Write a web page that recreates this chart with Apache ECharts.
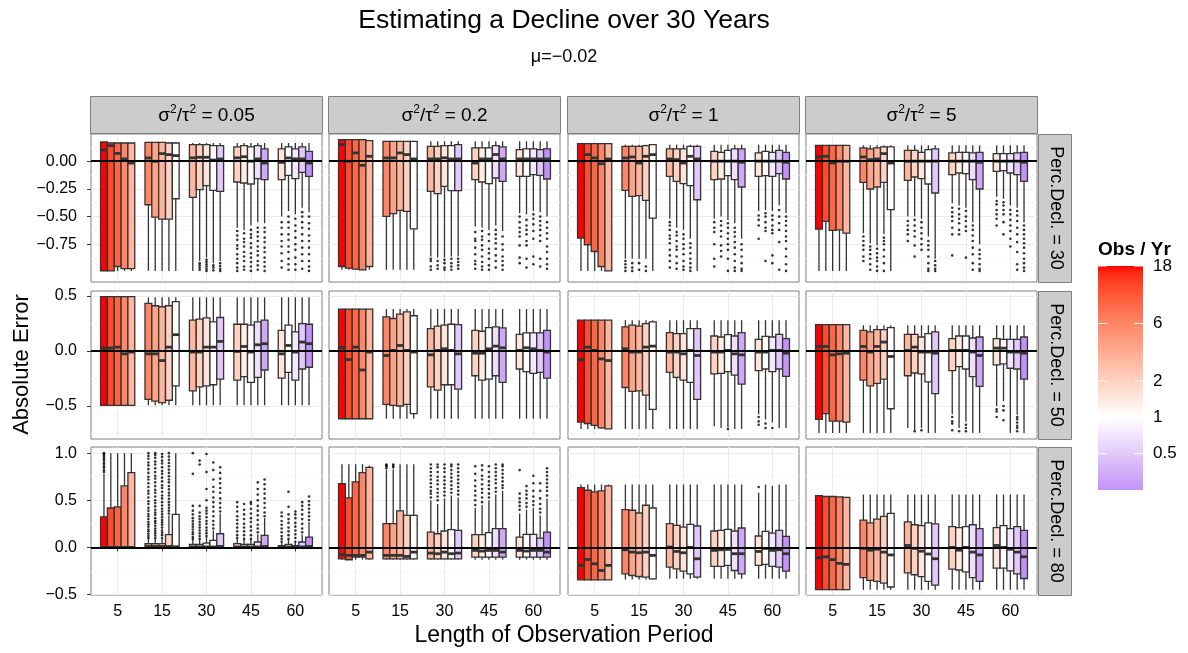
<!DOCTYPE html>
<html>
<head>
<meta charset="utf-8">
<title>Estimating a Decline over 30 Years</title>
<script src="https://cdn.jsdelivr.net/npm/echarts@6/dist/echarts.min.js"></script>
<style>
  html, body { margin: 0; padding: 0; background: #ffffff; }
  #chart { width: 1188px; height: 653px; }
</style>
</head>
<body>
<div id="chart"></div>
<script>
// ---- labels -------------------------------------------------------------
const chartTitle = 'Estimating a Decline over 30 Years';
const chartSubtitle = 'μ=−0.02';
const xTitle = 'Length of Observation Period';
const yTitle = 'Absolute Error';
const legendTitle = 'Obs / Yr';

const periods = [5, 15, 30, 45, 60];          // x categories (years)
const ratios = ['0.05', '0.2', '1', '5'];     // columns: sigma^2 / tau^2
const declines = [30, 50, 80];                // rows: percent decline
// Obs / Yr of the five dodged boxes in each period
const obsPerYear = [
  [18, 12, 9, 6, 3],
  [6, 4, 3, 2, 1],
  [3, 2, 1.5, 1, 0.5],
  [2, 1.33, 1, 0.67, 0.33],
  [1.5, 1, 0.75, 0.5, 0.25]
];
const legendTicks = [18, 6, 2, 1, 0.5];
const yTicks = [[-0.75, -0.5, -0.25, 0], [-0.5, 0, 0.5], [-0.5, 0, 0.5, 1]];
const yMinorTicks = [[-0.875, -0.625, -0.375, -0.125, 0.125], [-0.75, -0.25, 0.25], [-0.25, 0.25, 0.75]];
const yRange = [[-1.09, 0.245], [-0.80, 0.545], [-0.505, 1.065]];

// ---- box statistics: [low whisker, Q1, median, Q3, high whisker] ----------
// one row per period (5, 15, 30, 45, 60), five boxes per row
const stats30_005 = [
  [[-0.99,-0.99,0.10,0.173,0.173],[-0.99,-0.99,0.14,0.164,0.164],[-0.99,-0.95,0.07,0.164,0.164],[-0.99,-0.97,0.02,0.164,0.164],[-0.99,-0.97,-0.017,0.164,0.164]],
  [[-0.99,-0.393,0.029,0.170,0.170],[-0.99,-0.504,-0.001,0.170,0.170],[-0.99,-0.522,0.068,0.170,0.170],[-0.99,-0.522,0.059,0.164,0.170],[-0.99,-0.339,0.05,0.164,0.170]],
  [[-0.99,-0.327,0.03,0.149,0.164],[-0.90,-0.257,0.035,0.149,0.164],[-0.87,-0.221,0.035,0.149,0.164],[-0.92,-0.263,0.01,0.140,0.164],[-0.90,-0.272,0.02,0.140,0.164]],
  [[-0.60,-0.188,0.03,0.128,0.164],[-0.62,-0.197,0.04,0.140,0.164],[-0.58,-0.206,0.0,0.128,0.164],[-0.55,-0.158,0.02,0.140,0.164],[-0.56,-0.167,-0.017,0.110,0.164]],
  [[-0.50,-0.167,-0.011,0.110,0.164],[-0.45,-0.128,0.029,0.128,0.164],[-0.48,-0.158,0.020,0.110,0.164],[-0.42,-0.101,0.020,0.128,0.164],[-0.46,-0.137,-0.017,0.089,0.164]]
];
const stats30_02 = [
  [[-0.98,-0.95,0.15,0.194,0.194],[-0.98,-0.965,-0.001,0.194,0.194],[-0.98,-0.974,0.074,0.194,0.194],[-0.98,-0.98,-0.038,0.194,0.194],[-0.98,-0.95,0.044,0.185,0.185]],
  [[-0.98,-0.498,0.029,0.179,0.179],[-0.98,-0.474,0.029,0.179,0.179],[-0.98,-0.444,0.074,0.179,0.179],[-0.98,-0.453,0.059,0.179,0.179],[-0.98,-0.61,0.02,0.179,0.179]],
  [[-0.86,-0.272,0.02,0.134,0.179],[-0.87,-0.293,0.02,0.134,0.179],[-0.87,-0.227,0.03,0.140,0.179],[-0.86,-0.266,0.02,0.140,0.179],[-0.86,-0.266,0.02,0.149,0.179]],
  [[-0.59,-0.167,-0.017,0.119,0.179],[-0.60,-0.188,0.02,0.119,0.179],[-0.62,-0.203,0.02,0.119,0.179],[-0.58,-0.152,0.06,0.140,0.179],[-0.63,-0.182,0.02,0.128,0.179]],
  [[-0.47,-0.137,0.02,0.104,0.179],[-0.48,-0.137,0.02,0.110,0.179],[-0.45,-0.122,0.02,0.110,0.179],[-0.46,-0.128,0.02,0.104,0.179],[-0.50,-0.161,0.02,0.110,0.179]]
];
const stats30_1 = [
  [[-0.99,-0.694,-0.001,0.158,0.158],[-0.99,-0.754,0.059,0.158,0.158],[-0.99,-0.815,0.029,0.158,0.158],[-0.99,-0.95,-0.023,0.158,0.158],[-0.99,-0.99,0.02,0.158,0.158]],
  [[-0.88,-0.263,0.029,0.134,0.149],[-0.88,-0.317,0.038,0.134,0.149],[-0.88,-0.311,-0.017,0.134,0.149],[-0.88,-0.354,0.044,0.140,0.149],[-0.99,-0.513,0.059,0.149,0.149]],
  [[-0.52,-0.137,0.02,0.110,0.149],[-0.60,-0.182,0.014,0.110,0.149],[-0.62,-0.203,-0.017,0.110,0.149],[-0.70,-0.221,0.044,0.134,0.149],[-0.99,-0.348,0.02,0.134,0.149]],
  [[-0.52,-0.167,0.0,0.089,0.149],[-0.50,-0.161,0.0,0.080,0.149],[-0.53,-0.131,0.0,0.098,0.149],[-0.56,-0.167,0.0,0.110,0.149],[-0.70,-0.233,-0.01,0.110,0.149]],
  [[-0.45,-0.137,0.0,0.074,0.149],[-0.44,-0.131,0.0,0.089,0.149],[-0.45,-0.137,0.0,0.080,0.149],[-0.40,-0.113,0.0,0.098,0.149],[-0.47,-0.161,-0.01,0.080,0.149]]
];
const stats30_5 = [
  [[-0.99,-0.613,0.038,0.143,0.143],[-0.99,-0.543,0.044,0.143,0.143],[-0.99,-0.625,-0.017,0.143,0.143],[-0.99,-0.619,-0.001,0.143,0.143],[-0.99,-0.649,-0.001,0.143,0.143]],
  [[-0.65,-0.191,0.038,0.119,0.143],[-0.74,-0.251,0.014,0.110,0.143],[-0.76,-0.233,0.020,0.119,0.143],[-0.66,-0.191,0.068,0.128,0.143],[-0.99,-0.438,-0.017,0.128,0.143]],
  [[-0.50,-0.173,-0.001,0.098,0.143],[-0.50,-0.143,0.0,0.098,0.143],[-0.52,-0.158,0.0,0.080,0.143],[-0.68,-0.206,0.0,0.104,0.143],[-0.88,-0.287,0.0,0.110,0.143]],
  [[-0.38,-0.122,0.0,0.074,0.143],[-0.40,-0.107,0.0,0.080,0.143],[-0.42,-0.113,0.0,0.080,0.143],[-0.55,-0.167,0.0,0.074,0.143],[-0.75,-0.251,-0.01,0.080,0.143]],
  [[-0.32,-0.092,0.0,0.068,0.143],[-0.34,-0.086,0.0,0.068,0.143],[-0.40,-0.107,0.0,0.068,0.143],[-0.42,-0.122,0.0,0.074,0.143],[-0.55,-0.182,-0.01,0.080,0.143]]
];
const stats50_005 = [
  [[-0.494,-0.494,0.026,0.494,0.494],[-0.494,-0.494,0.026,0.494,0.494],[-0.494,-0.494,0.035,0.494,0.494],[-0.494,-0.494,-0.026,0.494,0.494],[-0.494,-0.494,-0.010,0.494,0.494]],
  [[-0.494,-0.439,-0.026,0.433,0.488],[-0.494,-0.455,-0.026,0.411,0.488],[-0.494,-0.469,-0.087,0.402,0.488],[-0.494,-0.448,0.035,0.411,0.488],[-0.494,-0.317,0.148,0.448,0.488]],
  [[-0.494,-0.362,-0.010,0.280,0.488],[-0.494,-0.326,-0.010,0.289,0.488],[-0.494,-0.317,0.035,0.301,0.488],[-0.494,-0.307,0.035,0.265,0.488],[-0.494,-0.255,0.087,0.304,0.488]],
  [[-0.494,-0.265,-0.004,0.243,0.488],[-0.494,-0.234,0.041,0.243,0.488],[-0.494,-0.286,-0.010,0.234,0.488],[-0.494,-0.240,0.056,0.265,0.488],[-0.494,-0.173,0.066,0.280,0.488]],
  [[-0.494,-0.246,-0.026,0.188,0.488],[-0.494,-0.194,0.050,0.234,0.488],[-0.494,-0.265,-0.010,0.173,0.488],[-0.494,-0.164,0.081,0.249,0.488],[-0.494,-0.148,0.066,0.243,0.488]]
];
const stats50_02 = [
  [[-0.616,-0.616,0.032,0.381,0.381],[-0.616,-0.616,-0.078,0.381,0.381],[-0.616,-0.616,0.035,0.381,0.381],[-0.616,-0.616,-0.173,0.381,0.381],[-0.616,-0.616,-0.010,0.381,0.381]],
  [[-0.616,-0.485,-0.041,0.310,0.381],[-0.616,-0.494,0.005,0.295,0.381],[-0.616,-0.500,0.050,0.335,0.381],[-0.616,-0.485,0.005,0.356,0.381],[-0.616,-0.570,-0.010,0.320,0.381]],
  [[-0.616,-0.326,-0.035,0.203,0.381],[-0.616,-0.356,0.005,0.225,0.381],[-0.616,-0.307,0.020,0.234,0.381],[-0.616,-0.307,0.005,0.243,0.381],[-0.616,-0.347,-0.026,0.240,0.381]],
  [[-0.616,-0.225,-0.020,0.188,0.381],[-0.616,-0.265,-0.020,0.179,0.381],[-0.616,-0.255,0.020,0.213,0.381],[-0.616,-0.225,0.044,0.219,0.381],[-0.616,-0.286,0.029,0.210,0.381]],
  [[-0.616,-0.164,0.005,0.151,0.381],[-0.616,-0.188,0.029,0.164,0.381],[-0.616,-0.203,0.020,0.164,0.381],[-0.616,-0.194,0.005,0.164,0.381],[-0.616,-0.246,-0.010,0.188,0.381]]
];
const stats50_1 = [
  [[-0.708,-0.647,-0.078,0.280,0.280],[-0.708,-0.659,0.035,0.280,0.280],[-0.708,-0.677,0.005,0.280,0.280],[-0.708,-0.699,-0.072,0.280,0.280],[-0.708,-0.708,-0.087,0.280,0.280]],
  [[-0.708,-0.332,0.020,0.219,0.280],[-0.708,-0.368,-0.010,0.234,0.280],[-0.708,-0.362,-0.010,0.225,0.280],[-0.708,-0.402,0.035,0.249,0.280],[-0.708,-0.531,0.044,0.265,0.280]],
  [[-0.708,-0.194,-0.010,0.167,0.280],[-0.708,-0.240,-0.010,0.158,0.280],[-0.708,-0.265,-0.026,0.158,0.280],[-0.708,-0.286,0.005,0.203,0.280],[-0.708,-0.439,-0.041,0.203,0.280]],
  [[-0.685,-0.209,-0.010,0.136,0.280],[-0.700,-0.203,-0.010,0.127,0.280],[-0.690,-0.188,0.005,0.148,0.280],[-0.708,-0.219,-0.026,0.136,0.280],[-0.708,-0.301,-0.035,0.167,0.280]],
  [[-0.576,-0.179,-0.010,0.106,0.280],[-0.622,-0.164,-0.010,0.133,0.280],[-0.650,-0.188,0.005,0.127,0.280],[-0.700,-0.164,0.005,0.151,0.280],[-0.700,-0.231,-0.020,0.112,0.280]]
];
const stats50_5 = [
  [[-0.745,-0.622,0.041,0.240,0.240],[-0.745,-0.570,0.041,0.240,0.240],[-0.745,-0.638,-0.035,0.240,0.240],[-0.745,-0.638,-0.026,0.240,0.240],[-0.745,-0.647,-0.020,0.240,0.240]],
  [[-0.745,-0.265,0.041,0.188,0.234],[-0.745,-0.317,-0.010,0.173,0.234],[-0.745,-0.295,0.041,0.194,0.234],[-0.745,-0.255,0.081,0.194,0.234],[-0.745,-0.525,-0.050,0.213,0.234]],
  [[-0.700,-0.225,0.005,0.151,0.234],[-0.720,-0.200,0.035,0.151,0.234],[-0.700,-0.209,-0.010,0.127,0.234],[-0.745,-0.280,-0.010,0.158,0.234],[-0.745,-0.387,-0.020,0.173,0.234]],
  [[-0.576,-0.179,0.005,0.112,0.234],[-0.700,-0.142,0.005,0.136,0.234],[-0.640,-0.164,0.005,0.136,0.234],[-0.745,-0.234,-0.010,0.118,0.234],[-0.745,-0.322,-0.041,0.127,0.234]],
  [[-0.500,-0.127,0.026,0.112,0.234],[-0.455,-0.118,0.026,0.106,0.234],[-0.745,-0.157,-0.010,0.106,0.234],[-0.580,-0.164,-0.010,0.106,0.234],[-0.745,-0.255,-0.020,0.127,0.234]]
];
const stats80_005 = [
  [[-0.01,-0.005,0.0,0.323,0.78],[-0.01,-0.005,0.0,0.418,1.0],[-0.01,-0.005,0.0,0.429,1.0],[-0.01,-0.005,0.0,0.652,1.0],[-0.01,-0.005,0.0,0.794,1.0]],
  [[-0.01,0.0,0.01,0.039,0.09],[-0.01,0.0,0.01,0.039,0.09],[-0.01,0.0,0.01,0.039,0.09],[-0.01,0.0,0.01,0.135,0.34],[-0.01,0.0,0.007,0.350,1.0]],
  [[-0.01,0.0,0.005,0.032,0.08],[-0.01,0.0,0.005,0.032,0.08],[-0.01,0.0,0.005,0.046,0.11],[-0.01,0.0,0.005,0.074,0.18],[-0.01,0.0,0.01,0.145,0.36]],
  [[-0.01,0.0,0.005,0.039,0.09],[-0.01,0.0,0.005,0.032,0.08],[-0.01,0.0,0.005,0.032,0.08],[-0.01,0.0,0.005,0.057,0.14],[-0.01,0.0,0.01,0.128,0.31]],
  [[-0.01,0.0,0.005,0.018,0.05],[-0.01,0.0,0.005,0.032,0.08],[-0.01,0.0,0.005,0.018,0.05],[-0.01,0.0,0.005,0.057,0.14],[-0.01,0.0,0.01,0.110,0.27]]
];
const stats80_02 = [
  [[-0.13,-0.121,-0.078,0.677,0.883],[-0.13,-0.131,-0.085,0.525,0.883],[-0.13,-0.103,-0.085,0.695,0.883],[-0.13,-0.103,-0.085,0.794,0.883],[-0.13,-0.121,-0.050,0.848,0.870]],
  [[-0.13,-0.121,-0.085,0.252,0.82],[-0.13,-0.121,-0.085,0.252,0.83],[-0.13,-0.121,-0.085,0.387,0.883],[-0.13,-0.121,-0.096,0.340,0.883],[-0.13,-0.121,-0.050,0.340,0.883]],
  [[-0.13,-0.121,-0.060,0.163,0.50],[-0.13,-0.121,-0.067,0.145,0.46],[-0.13,-0.121,-0.050,0.174,0.52],[-0.13,-0.121,-0.067,0.188,0.55],[-0.13,-0.121,-0.060,0.181,0.53]],
  [[-0.13,-0.103,-0.032,0.135,0.42],[-0.13,-0.103,-0.039,0.135,0.45],[-0.13,-0.103,-0.032,0.156,0.50],[-0.13,-0.103,-0.032,0.199,0.56],[-0.13,-0.103,-0.050,0.199,0.60]],
  [[-0.13,-0.103,-0.032,0.110,0.36],[-0.13,-0.103,-0.039,0.138,0.40],[-0.13,-0.103,-0.032,0.138,0.42],[-0.13,-0.103,-0.032,0.099,0.34],[-0.13,-0.103,-0.050,0.163,0.52]]
];
const stats80_1 = [
  [[-0.344,-0.344,-0.191,0.635,0.667],[-0.344,-0.344,-0.128,0.606,0.667],[-0.344,-0.344,-0.174,0.589,0.667],[-0.344,-0.344,-0.245,0.599,0.667],[-0.344,-0.344,-0.191,0.652,0.667]],
  [[-0.34,-0.280,-0.025,0.401,0.667],[-0.34,-0.298,-0.050,0.394,0.667],[-0.34,-0.309,-0.057,0.365,0.667],[-0.34,-0.316,-0.050,0.447,0.667],[-0.344,-0.333,-0.085,0.418,0.667]],
  [[-0.333,-0.209,0.004,0.252,0.667],[-0.333,-0.227,-0.043,0.234,0.667],[-0.333,-0.252,-0.057,0.216,0.667],[-0.333,-0.280,0.0,0.245,0.667],[-0.333,-0.316,-0.121,0.227,0.667]],
  [[-0.333,-0.202,-0.032,0.174,0.667],[-0.333,-0.202,-0.025,0.181,0.667],[-0.333,-0.191,-0.021,0.192,0.667],[-0.333,-0.245,-0.067,0.174,0.667],[-0.333,-0.280,-0.067,0.206,0.667]],
  [[-0.333,-0.191,-0.043,0.121,0.58],[-0.333,-0.181,-0.011,0.170,0.667],[-0.333,-0.202,-0.032,0.152,0.65],[-0.333,-0.209,-0.025,0.181,0.667],[-0.333,-0.252,-0.067,0.117,0.667]]
];
const stats80_5 = [
  [[-0.45,-0.447,-0.11,0.55,0.55],[-0.45,-0.447,-0.10,0.54,0.54],[-0.45,-0.447,-0.13,0.54,0.54],[-0.45,-0.447,-0.17,0.535,0.535],[-0.45,-0.447,-0.18,0.53,0.53]],
  [[-0.45,-0.32,-0.01,0.29,0.56],[-0.45,-0.35,-0.03,0.26,0.56],[-0.45,-0.36,-0.02,0.30,0.56],[-0.45,-0.38,-0.05,0.33,0.56],[-0.45,-0.42,-0.08,0.36,0.56]],
  [[-0.45,-0.27,0.02,0.27,0.56],[-0.45,-0.29,-0.01,0.24,0.56],[-0.45,-0.31,-0.04,0.23,0.56],[-0.45,-0.36,-0.07,0.26,0.56],[-0.45,-0.40,-0.12,0.25,0.56]],
  [[-0.45,-0.23,0.0,0.22,0.56],[-0.45,-0.24,-0.03,0.21,0.56],[-0.45,-0.26,0.0,0.22,0.56],[-0.45,-0.32,-0.05,0.24,0.56],[-0.45,-0.36,-0.08,0.20,0.56]],
  [[-0.45,-0.22,0.02,0.21,0.56],[-0.45,-0.22,0.0,0.23,0.56],[-0.45,-0.25,-0.02,0.20,0.56],[-0.45,-0.28,-0.05,0.22,0.56],[-0.45,-0.33,-0.10,0.18,0.56]]
];

// ---- outliers: [period index, box index, values] -------------------------
const out30_005 = [
  [2,1,[-0.92,-0.94,-0.96,-0.98]],[2,2,[-0.89,-0.91,-0.93,-0.95,-0.97,-0.99]],[2,3,[-0.94,-0.96,-0.985]],[2,4,[-0.92,-0.945,-0.97,-0.99]],
  [3,0,[-0.63,-0.67,-0.71,-0.76,-0.79,-0.84,-0.88,-0.92,-0.96,-0.99]],[3,1,[-0.65,-0.7,-0.73,-0.77,-0.82,-0.86,-0.9,-0.95,-0.98]],
  [3,2,[-0.62,-0.66,-0.69,-0.74,-0.78,-0.83,-0.87,-0.91,-0.95,-0.99]],[3,3,[-0.6,-0.64,-0.68,-0.72,-0.77,-0.81,-0.85,-0.9,-0.94,-0.98]],
  [3,4,[-0.6,-0.64,-0.69,-0.73,-0.78,-0.82,-0.87,-0.91,-0.95,-0.99]],
  [4,0,[-0.55,-0.6,-0.66,-0.72,-0.77,-0.83,-0.9,-0.96]],[4,1,[-0.5,-0.55,-0.6,-0.66,-0.71,-0.77,-0.82,-0.88,-0.93,-0.98]],
  [4,2,[-0.52,-0.58,-0.63,-0.69,-0.75,-0.8,-0.87,-0.93,-0.98]],[4,3,[-0.46,-0.5,-0.55,-0.6,-0.66,-0.72,-0.78,-0.84,-0.9,-0.97]],
  [4,4,[-0.5,-0.56,-0.61,-0.67,-0.72,-0.78,-0.84,-0.9,-0.95,-0.99]]
];
const out30_02 = [
  [2,0,[-0.88,-0.9,-0.95,-0.98]],[2,1,[-0.9,-0.94,-0.97]],[2,2,[-0.89,-0.92,-0.96,-0.98]],[2,3,[-0.88,-0.92,-0.95,-0.98]],[2,4,[-0.88,-0.91,-0.94,-0.97]],
  [3,0,[-0.64,-0.7,-0.72,-0.78,-0.84,-0.9,-0.93,-0.97]],[3,1,[-0.63,-0.68,-0.71,-0.76,-0.8,-0.86,-0.91,-0.95,-0.98]],
  [3,2,[-0.66,-0.72,-0.79,-0.83,-0.88,-0.94,-0.98]],[3,3,[-0.62,-0.66,-0.7,-0.74,-0.79,-0.85,-0.9,-0.96]],[3,4,[-0.68,-0.75,-0.8,-0.86,-0.9,-0.94,-0.98]],
  [4,0,[-0.5,-0.55,-0.6,-0.64,-0.68,-0.76,-0.87,-0.92]],[4,1,[-0.53,-0.58,-0.62,-0.66,-0.72,-0.76,-0.88,-0.96]],
  [4,2,[-0.48,-0.52,-0.57,-0.63,-0.7,-0.86,-0.93]],[4,3,[-0.5,-0.54,-0.58,-0.62,-0.67,-0.72,-0.88,-0.95]],
  [4,4,[-0.55,-0.6,-0.65,-0.7,-0.77,-0.82,-0.88,-0.93,-0.97]]
];
const out30_1 = [
  [1,0,[-0.9,-0.93,-0.96,-0.99]],[1,1,[-0.92,-0.96,-0.99]],[1,2,[-0.92,-0.98]],[1,3,[-0.95,-0.99]],
  [2,0,[-0.55,-0.58,-0.62,-0.67,-0.7,-0.74,-0.8,-0.85,-0.9,-0.96]],[2,1,[-0.64,-0.67,-0.72,-0.77,-0.8,-0.86,-0.92,-0.97]],
  [2,2,[-0.66,-0.7,-0.75,-0.79,-0.84,-0.9,-0.95,-0.98]],[2,3,[-0.74,-0.78,-0.83,-0.88,-0.92,-0.96,-0.99]],
  [3,0,[-0.55,-0.6,-0.64,-0.75,-0.88,-0.95]],[3,1,[-0.54,-0.58,-0.63,-0.68,-0.76,-0.81,-0.86]],
  [3,2,[-0.56,-0.6,-0.65,-0.7,-0.75,-0.8,-0.88,-0.99]],[3,3,[-0.6,-0.64,-0.68,-0.73,-0.78,-0.84,-0.9,-0.96,-0.99]],
  [3,4,[-0.75,-0.8,-0.86,-0.92,-0.97,-0.99]],
  [4,0,[-0.49,-0.53,-0.58,-0.7]],[4,1,[-0.47,-0.5,-0.55,-0.6,-0.63,-0.9]],[4,2,[-0.49,-0.53,-0.58,-0.62,-0.65,-0.85,-0.92]],
  [4,3,[-0.44,-0.5,-0.56,-0.62,-0.73,-0.98]],[4,4,[-0.5,-0.54,-0.58,-0.63,-0.68,-0.72,-0.79,-0.86,-0.93,-0.99]]
];
const out30_5 = [
  [1,0,[-0.68,-0.72,-0.76,-0.8,-0.86,-0.9]],[1,1,[-0.77,-0.8,-0.84,-0.88,-0.93,-0.98]],[1,2,[-0.79,-0.83,-0.87,-0.9,-0.95,-0.99]],
  [1,3,[-0.69,-0.72,-0.75,-0.8,-0.86,-0.92,-0.99]],
  [2,0,[-0.54,-0.58,-0.62,-0.66,-0.72]],[2,1,[-0.53,-0.58,-0.63,-0.68,-0.76,-0.86]],[2,2,[-0.55,-0.6,-0.65,-0.7,-0.75,-0.8]],
  [2,3,[-0.72,-0.76,-0.8,-0.86,-0.92,-0.97,-0.99]],[2,4,[-0.9,-0.94,-0.97,-0.99]],
  [3,0,[-0.42,-0.46,-0.5,-0.54,-0.6,-0.66,-0.85]],[3,1,[-0.43,-0.48,-0.52,-0.56,-0.62,-0.66]],[3,2,[-0.45,-0.5,-0.54,-0.59,-0.63,-0.87]],
  [3,3,[-0.58,-0.62,-0.67,-0.72,-0.78,-0.84,-0.92,-0.98]],[3,4,[-0.8,-0.84,-0.88,-0.93,-0.97,-0.99]],
  [4,0,[-0.36,-0.39,-0.44,-0.48,-0.52,-0.58]],[4,1,[-0.37,-0.4,-0.44,-0.48,-0.55,-0.66]],[4,2,[-0.44,-0.48,-0.53,-0.58,-0.63,-0.7,-0.77]],
  [4,3,[-0.45,-0.49,-0.54,-0.6,-0.66,-0.73,-0.82,-0.93,-0.98]],[4,4,[-0.58,-0.62,-0.66,-0.7,-0.74,-0.78,-0.83,-0.88,-0.92,-0.96,-0.99]]
];
const out50_005 = [];
const out50_02 = [];
const out50_1 = [[3,2,[-0.708]],[4,0,[-0.60,-0.64,-0.67]],[4,1,[-0.66,-0.70]],[4,2,[-0.70]]];
const out50_5 = [
  [2,1,[-0.73]],[2,2,[-0.72]],[3,0,[-0.60,-0.64,-0.66,-0.72]],[3,1,[-0.73]],[3,2,[-0.67,-0.70,-0.73]],
  [4,0,[-0.53,-0.55,-0.60]],[4,1,[-0.50,-0.54,-0.63]],[4,3,[-0.60,-0.62,-0.65,-0.68,-0.70,-0.73]]
];
const out80_005 = [
  [0,0,[0.80,0.82,0.845,0.86,0.885,0.9,0.925,0.94,0.96,0.975,0.99,1.0]],
  [1,0,[0.10,0.12,0.145,0.17,0.19,0.22,0.245,0.27,0.3,0.33,0.355,0.39,0.42,0.46,0.49,0.53,0.57,0.6,0.64,0.68,0.72,0.75,0.79,0.83,0.87,0.9,0.94,0.97,1.0]],
  [1,1,[0.1,0.125,0.15,0.175,0.2,0.23,0.26,0.28,0.31,0.345,0.37,0.4,0.435,0.47,0.5,0.54,0.58,0.61,0.65,0.69,0.73,0.76,0.8,0.84,0.88,0.91,0.95,0.98,1.0]],
  [1,2,[0.1,0.13,0.155,0.18,0.21,0.24,0.265,0.29,0.32,0.35,0.38,0.41,0.445,0.48,0.52,0.55,0.59,0.63,0.66,0.7,0.74,0.78,0.81,0.85,0.89,0.92,0.96,0.99]],
  [1,3,[0.36,0.39,0.42,0.45,0.48,0.515,0.55,0.58,0.615,0.65,0.69,0.72,0.755,0.79,0.825,0.86,0.895,0.93,0.965,1.0]],
  [2,0,[0.09,0.11,0.14,0.16,0.19,0.22,0.25,0.28,0.31,0.35,0.39,0.44,0.78,1.0]],
  [2,1,[0.09,0.12,0.15,0.18,0.21,0.24,0.27,0.3,0.33,0.37,0.44,0.88,0.92]],
  [2,2,[0.12,0.15,0.18,0.21,0.25,0.28,0.32,0.36,0.39,0.42,0.5,0.62,0.8,0.99]],
  [2,3,[0.2,0.24,0.28,0.33,0.38,0.43,0.48,0.53,0.59,0.64,0.72,0.82,0.9]],
  [2,4,[0.38,0.42,0.47,0.52,0.58,0.63,0.68,0.73,0.79,0.85]],
  [3,0,[0.1,0.13,0.17,0.21,0.25,0.29,0.33,0.38,0.43,0.48]],
  [3,1,[0.09,0.13,0.17,0.21,0.25,0.3,0.35,0.4,0.46]],
  [3,2,[0.09,0.13,0.18,0.22,0.27,0.31,0.36,0.41,0.46,0.48]],
  [3,3,[0.16,0.2,0.24,0.29,0.34,0.39,0.44,0.5,0.56,0.62,0.69]],
  [3,4,[0.33,0.37,0.42,0.47,0.52,0.57,0.62,0.67,0.72]],
  [4,0,[0.06,0.09,0.12,0.16,0.2,0.24,0.28,0.33,0.37]],
  [4,1,[0.09,0.13,0.17,0.21,0.26,0.3,0.35,0.43,0.59]],
  [4,2,[0.06,0.1,0.14,0.18,0.22,0.26,0.31,0.35,0.38]],
  [4,3,[0.16,0.2,0.25,0.3,0.35,0.4,0.44,0.48]],
  [4,4,[0.29,0.33,0.37,0.41,0.45,0.49,0.54]]
];
const out80_02 = [
  [1,0,[0.84,0.86,0.87,0.88]],[1,1,[0.85,0.865,0.88]],
  [2,0,[0.53,0.57,0.6,0.64,0.68,0.72,0.76,0.8,0.84,0.88]],[2,1,[0.5,0.54,0.58,0.62,0.67,0.71,0.75,0.8,0.85,0.88]],
  [2,2,[0.55,0.59,0.63,0.67,0.71,0.75,0.8,0.84,0.88]],[2,3,[0.58,0.62,0.66,0.7,0.74,0.78,0.82,0.86,0.88]],
  [2,4,[0.56,0.6,0.64,0.68,0.72,0.76,0.8,0.84,0.88]],
  [3,0,[0.45,0.5,0.55,0.6,0.65,0.71,0.78,0.86]],[3,1,[0.48,0.53,0.58,0.62,0.67,0.72,0.76,0.82,0.87]],
  [3,2,[0.53,0.57,0.62,0.66,0.7,0.75,0.8,0.86]],[3,3,[0.59,0.63,0.68,0.72,0.76,0.8,0.84,0.88]],
  [3,4,[0.63,0.66,0.7,0.74,0.78,0.82,0.86,0.88]],
  [4,0,[0.4,0.44,0.48,0.52,0.57,0.82]],[4,1,[0.43,0.47,0.52,0.56,0.6,0.65]],[4,2,[0.45,0.49,0.54,0.6,0.68,0.76]],
  [4,3,[0.37,0.41,0.46,0.52,0.6,0.68]],[4,4,[0.55,0.6,0.64,0.68,0.72,0.76,0.8,0.84]]
];
const out80_1 = [[4,0,[0.64]]];
const out80_5 = [];

const panelStats = [
  [stats30_005, stats30_02, stats30_1, stats30_5],
  [stats50_005, stats50_02, stats50_1, stats50_5],
  [stats80_005, stats80_02, stats80_1, stats80_5]
];
const panelOutliers = [
  [out30_005, out30_02, out30_1, out30_5],
  [out50_005, out50_02, out50_1, out50_5],
  [out80_005, out80_02, out80_1, out80_5]
];

// ---- layout ---------------------------------------------------------------
const FONT = '"Liberation Sans", Arial, Helvetica, sans-serif';
const PANEL_LEFT = [91, 329, 568, 806];
const PANEL_TOP = [134, 291, 447];
const PANEL_W = 231, PANEL_H = 148;
const STRIP_TOP = 96, STRIP_RIGHT_X = 1038, STRIP_RIGHT_W = 33;
const DODGE = 0.77;            // share of a period band taken by its five boxes
const SLOT = DODGE / 5;        // width of one box in axis units
const INK = '#333333';

// ---- colour scale: white midpoint at 1 Obs/Yr, interpolated in CIE Lab ----
function hexToLab(hex) {
  const lin = [1, 3, 5].map(i => parseInt(hex.substr(i, 2), 16) / 255)
    .map(v => v <= 0.04045 ? v / 12.92 : Math.pow((v + 0.055) / 1.055, 2.4));
  const X = (0.4124 * lin[0] + 0.3576 * lin[1] + 0.1805 * lin[2]) / 0.95047;
  const Y = 0.2126 * lin[0] + 0.7152 * lin[1] + 0.0722 * lin[2];
  const Z = (0.0193 * lin[0] + 0.1192 * lin[1] + 0.9505 * lin[2]) / 1.08883;
  const f = t => t > 0.008856 ? Math.cbrt(t) : 7.787 * t + 16 / 116;
  return [116 * f(Y) - 16, 500 * (f(X) - f(Y)), 200 * (f(Y) - f(Z))];
}
function labToRgb(lab) {
  const fy = (lab[0] + 16) / 116, fx = fy + lab[1] / 500, fz = fy - lab[2] / 200;
  const inv = t => t * t * t > 0.008856 ? t * t * t : (t - 16 / 116) / 7.787;
  const X = inv(fx) * 0.95047, Y = inv(fy), Z = inv(fz) * 1.08883;
  const lin = [
    3.2406 * X - 1.5372 * Y - 0.4986 * Z,
    -0.9689 * X + 1.8758 * Y + 0.0415 * Z,
    0.0557 * X - 0.2040 * Y + 1.0570 * Z
  ];
  const enc = v => {
    v = Math.min(1, Math.max(0, v));
    return Math.round(255 * (v <= 0.0031308 ? 12.92 * v : 1.055 * Math.pow(v, 1 / 2.4) - 0.055));
  };
  return 'rgb(' + lin.map(enc).join(',') + ')';
}
const HIGH_LAB = hexToLab('#FF0000');
const MID_LAB = hexToLab('#FFFFFF');
const LOW_LAB = hexToLab('#6400E6');
const allObs = obsPerYear.flat();
const lnObsMin = Math.log(Math.min(...allObs));
const lnObsMax = Math.log(Math.max(...allObs));
const lnSpan = Math.max(Math.abs(lnObsMin), Math.abs(lnObsMax));
function fillForLn(lv) {
  const t = lv / lnSpan;
  const end = t >= 0 ? HIGH_LAB : LOW_LAB;
  const k = Math.abs(t);
  return labToRgb(MID_LAB.map((m, i) => m + (end[i] - m) * k));
}
const fillFor = obs => fillForLn(Math.log(obs));

// ---- drawing helpers --------------------------------------------------------
function renderBox(params, api) {
  const x = api.value(0);
  const lo = api.coord([x, api.value(1)]);
  const q1 = api.coord([x, api.value(2)]);
  const med = api.coord([x, api.value(3)]);
  const q3 = api.coord([x, api.value(4)]);
  const hi = api.coord([x, api.value(5)]);
  const w = api.size([SLOT, 0])[0];
  const cx = lo[0], left = cx - w / 2;
  return {
    type: 'group',
    children: [
      { type: 'line', shape: { x1: cx, y1: hi[1], x2: cx, y2: q3[1] }, style: { stroke: INK, lineWidth: 1.3 } },
      { type: 'line', shape: { x1: cx, y1: q1[1], x2: cx, y2: lo[1] }, style: { stroke: INK, lineWidth: 1.3 } },
      { type: 'rect', shape: { x: left, y: q3[1], width: w, height: q1[1] - q3[1] },
        style: { fill: api.visual('color'), stroke: INK, lineWidth: 1.3 } },
      { type: 'line', shape: { x1: left, y1: med[1], x2: left + w, y2: med[1] }, style: { stroke: INK, lineWidth: 2.8 } }
    ]
  };
}
const tickText = (v, r) => v.toFixed(r === 0 ? 2 : 1).replace('-', '\u2212');
const dodgeX = (pi, bi) => pi + 1 + (bi - 2) * SLOT;

// ---- panels -------------------------------------------------------------------
const grid = [], xAxis = [], yAxis = [], series = [], graphic = [];
const periodPos = periods.map((p, i) => i + 1);

declines.forEach((decl, r) => {
  ratios.forEach((ratio, c) => {
    const g = grid.length;
    const bottomRow = r === declines.length - 1;
    grid.push({
      left: PANEL_LEFT[c], top: PANEL_TOP[r], width: PANEL_W, height: PANEL_H,
      show: true, borderColor: '#7f7f7f', borderWidth: 1, backgroundColor: '#ffffff'
    });
    xAxis.push({
      gridIndex: g, type: 'value', min: 0.4, max: 5.6,
      axisLine: { show: false },
      axisTick: { show: bottomRow, length: 4, lineStyle: { color: INK }, customValues: periodPos },
      axisLabel: { show: bottomRow, customValues: periodPos, margin: 9, color: '#000', fontSize: 16, fontFamily: FONT,
        formatter: v => String(periods[Math.round(v) - 1]) },
      splitLine: { show: true, lineStyle: { color: '#ebebeb', width: 1 } }
    });
    yAxis.push({
      gridIndex: g, type: 'value', min: yRange[r][0], max: yRange[r][1],
      axisLine: { show: false },
      axisTick: { show: c === 0, length: 4, lineStyle: { color: INK }, customValues: yTicks[r] },
      axisLabel: { show: c === 0, customValues: yTicks[r], margin: 14, color: '#000', fontSize: 16, fontFamily: FONT,
        formatter: v => tickText(v, r) },
      splitLine: { show: true, lineStyle: { color: '#ebebeb', width: 1 } }
    });
    yAxis.push({
      gridIndex: g, type: 'value', min: yRange[r][0], max: yRange[r][1], position: 'left',
      axisLine: { show: false },
      axisTick: { show: false, customValues: yMinorTicks[r] },
      axisLabel: { show: false, customValues: yMinorTicks[r] },
      splitLine: { show: true, lineStyle: { color: '#f6f6f6', width: 1 } }
    });

    const boxes = [];
    panelStats[r][c].forEach((row, pi) => row.forEach((s, bi) => {
      boxes.push({ value: [dodgeX(pi, bi)].concat(s), itemStyle: { color: fillFor(obsPerYear[pi][bi]) } });
    }));
    const points = [];
    panelOutliers[r][c].forEach(([pi, bi, vals]) => vals.forEach(v => points.push([dodgeX(pi, bi), v])));

    series.push({
      type: 'custom', xAxisIndex: g, yAxisIndex: 2 * g, z: 2, silent: true,
      renderItem: renderBox, encode: { x: 0, y: [1, 2, 3, 4, 5] }, data: boxes
    });
    series.push({
      type: 'scatter', xAxisIndex: g, yAxisIndex: 2 * g, z: 3, silent: true,
      symbol: 'circle', symbolSize: 2.6, itemStyle: { color: '#000' }, data: points,
      markLine: { silent: true, symbol: 'none', label: { show: false }, animation: false,
        lineStyle: { color: '#000', width: 2, type: 'solid' }, data: [{ yAxis: 0 }] }
    });

    // row strip on the right
    if (c === ratios.length - 1) {
      graphic.push({ type: 'rect', shape: { x: STRIP_RIGHT_X + 0.5, y: PANEL_TOP[r] + 0.5, width: STRIP_RIGHT_W, height: PANEL_H },
        style: { fill: '#cccccc', stroke: '#7f7f7f', lineWidth: 1 } });
      graphic.push({ type: 'text', x: STRIP_RIGHT_X + STRIP_RIGHT_W / 2 + 1, y: PANEL_TOP[r] + PANEL_H / 2, rotation: -Math.PI / 2,
        style: { text: 'Perc.Decl. = ' + decl, fill: '#000', fontSize: 18, fontFamily: FONT,
          align: 'center', verticalAlign: 'middle', textAlign: 'center', textVerticalAlign: 'middle' } });
    }
  });
});

// column strips on top
ratios.forEach((ratio, c) => {
  graphic.push({ type: 'rect', shape: { x: PANEL_LEFT[c] - 0.5, y: STRIP_TOP + 0.5, width: PANEL_W + 1, height: PANEL_TOP[0] - STRIP_TOP - 1 },
    style: { fill: '#cccccc', stroke: '#7f7f7f', lineWidth: 1 } });
  graphic.push({ type: 'text', x: PANEL_LEFT[c] + PANEL_W / 2, y: (STRIP_TOP + PANEL_TOP[0]) / 2 + 1,
    style: {
      text: '{n|σ}{s|2}{n|/τ}{s|2}{n| = ' + ratio + '}',
      rich: {
        n: { fontSize: 19, lineHeight: 24, fontFamily: FONT, fill: '#000', color: '#000' },
        s: { fontSize: 12, lineHeight: 13, verticalAlign: 'top', fontFamily: FONT, fill: '#000', color: '#000' }
      },
      align: 'center', verticalAlign: 'middle', textAlign: 'center', textVerticalAlign: 'middle'
    } });
});

// ---- colour bar -----------------------------------------------------------------
const LG = grid.length;
grid.push({ left: 1098, top: 266, width: 45, height: 224, show: false });
xAxis.push({ gridIndex: LG, type: 'value', min: 0, max: 1, show: false });
yAxis.push({
  gridIndex: LG, type: 'value', min: lnObsMin, max: lnObsMax, position: 'right',
  axisLine: { show: false }, axisTick: { show: false }, splitLine: { show: false },
  axisLabel: {
    customValues: legendTicks.map(Math.log), margin: 10, color: '#000', fontSize: 17, fontFamily: FONT,
    formatter: v => { const t = legendTicks.find(k => Math.abs(Math.log(k) - v) < 1e-6); return t === undefined ? '' : String(t); }
  }
});
const legendY = yAxis.length - 1;
series.push({
  type: 'custom', xAxisIndex: LG, yAxisIndex: legendY, silent: true,
  data: [[0, lnObsMin, lnObsMax]],
  renderItem: (params, api) => {
    const top = api.coord([0, api.value(2)]);
    const bottom = api.coord([1, api.value(1)]);
    const steps = 40, stops = [];
    for (let k = 0; k <= steps; k++) {
      const lv = api.value(2) - (api.value(2) - api.value(1)) * k / steps;
      stops.push({ offset: k / steps, color: fillForLn(lv) });
    }
    return { type: 'rect', shape: { x: top[0], y: top[1], width: bottom[0] - top[0], height: bottom[1] - top[1] },
      style: { fill: new echarts.graphic.LinearGradient(0, 0, 0, 1, stops) } };
  }
});
series.push({
  type: 'custom', xAxisIndex: LG, yAxisIndex: legendY, silent: true, z: 3,
  data: legendTicks.map(t => [Math.log(t)]),
  renderItem: (params, api) => {
    const a = api.coord([0, api.value(0)]);
    const b = api.coord([1, api.value(0)]);
    const len = (b[0] - a[0]) / 5;
    const st = { stroke: '#ffffff', lineWidth: 1 };
    return { type: 'group', children: [
      { type: 'line', shape: { x1: a[0], y1: a[1], x2: a[0] + len, y2: a[1] }, style: st },
      { type: 'line', shape: { x1: b[0] - len, y1: b[1], x2: b[0], y2: b[1] }, style: st }
    ] };
  }
});

// ---- titles -------------------------------------------------------------------
const panelMidX = (PANEL_LEFT[0] + PANEL_LEFT[3] + PANEL_W) / 2;
const panelMidY = (PANEL_TOP[0] + PANEL_TOP[2] + PANEL_H) / 2;
const centered = { align: 'center', verticalAlign: 'middle', textAlign: 'center', textVerticalAlign: 'middle', fill: '#000', fontFamily: FONT };
graphic.push({ type: 'text', x: panelMidX, y: 21, style: Object.assign({ text: chartTitle, fontSize: 26.5 }, centered) });
graphic.push({ type: 'text', x: panelMidX, y: 57, style: Object.assign({ text: chartSubtitle, fontSize: 18 }, centered) });
graphic.push({ type: 'text', x: panelMidX, y: 636, style: Object.assign({ text: xTitle, fontSize: 23 }, centered) });
graphic.push({ type: 'text', x: 22, y: panelMidY, rotation: Math.PI / 2, style: Object.assign({ text: yTitle, fontSize: 22 }, centered) });
graphic.push({ type: 'text', x: 1098, y: 250, style: { text: legendTitle, fontSize: 19, fontWeight: 'bold', fill: '#000', fontFamily: FONT,
  align: 'left', verticalAlign: 'middle', textAlign: 'left', textVerticalAlign: 'middle' } });

const chart = echarts.init(document.getElementById('chart'), null, { renderer: 'canvas' });
chart.setOption({
  animation: false,
  backgroundColor: '#ffffff',
  textStyle: { fontFamily: FONT },
  grid, xAxis, yAxis, series, graphic
});
</script>
</body>
</html>
